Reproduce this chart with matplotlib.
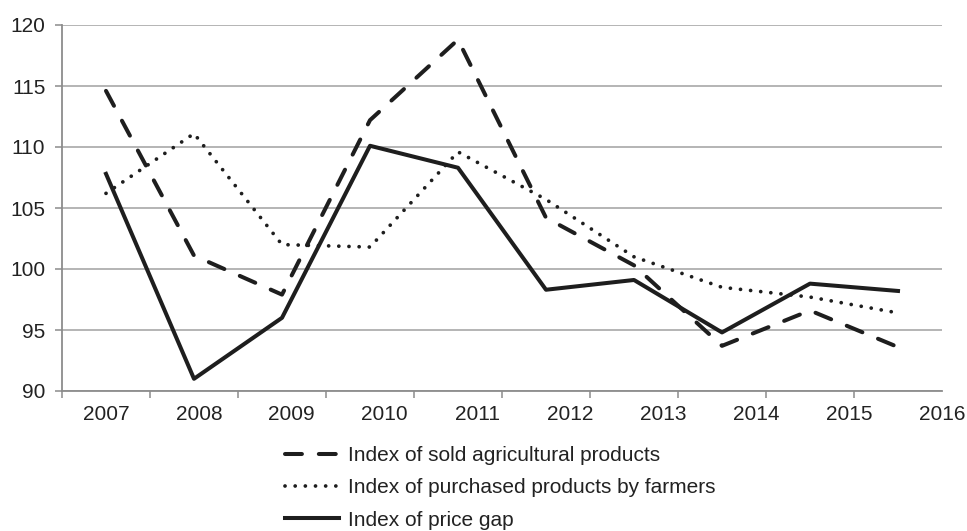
import numpy as np
import matplotlib.pyplot as plt
from matplotlib.lines import Line2D

plt.rcParams['font.family'] = ['Liberation Sans', 'DejaVu Sans']

years = ['2007', '2008', '2009', '2010', '2011', '2012', '2013', '2014', '2015', '2016']
sold = [114.6, 101.1, 97.9, 112.2, 118.8, 104.2, 100.3, 93.7, 96.6, 93.6]
purchased = [106.2, 111.1, 102.0, 101.8, 109.6, 105.7, 101.0, 98.5, 97.7, 96.4]
price_gap = [107.8, 91.0, 96.0, 110.1, 108.3, 98.3, 99.1, 94.8, 98.8, 98.2]
labels = ['Index of sold agricultural products',
          'Index of purchased products by farmers',
          'Index of price gap']

grey = '#8c8c8c'
ink = '#1e1e1e'
txt = '#222222'
dash_style = dict(color=ink, lw=2.9, dashes=(4.2, 4.2), dash_capstyle='round')
dot_style = dict(color=ink, lw=2.7, dashes=(0.01, 2.7), dash_capstyle='round')
solid_style = dict(color=ink, lw=2.9)

fig = plt.figure(figsize=(9.67, 5.31), dpi=100)
ax = fig.add_axes([62/967, 1 - 391/531, (942 - 62)/967, (391 - 25)/531])

x = np.arange(len(years))
ax.plot(x, sold, **dash_style)
ax.plot(x, purchased, **dot_style)
ax.plot(x, price_gap, **solid_style)

ax.set_ylim(90, 120)
ax.set_yticks(np.arange(90, 121, 5))
ax.set_xlim(-0.5, len(years) - 0.5)
ax.grid(axis='y', color='#a0a0a0', lw=1.1)
ax.set_axisbelow(True)

# category edges carry the tick marks, labels sit on their own (tickless) positions
ax.set_xticks(np.arange(-0.5, len(years)), minor=True)
ax.set_xticks(np.linspace(0, len(years) - 0.5, len(years)))
ax.set_xticklabels(years)
ax.tick_params(axis='x', which='major', length=0, pad=10, labelsize=15, labelcolor=txt)
ax.tick_params(axis='x', which='minor', length=5, width=1.1, color=grey, direction='out')
ax.tick_params(axis='y', length=5, width=1.1, color=grey, pad=7, labelsize=15, labelcolor=txt)

for s in ['top', 'right']:
    ax.spines[s].set_visible(False)
for s in ['left', 'bottom']:
    ax.spines[s].set_color(grey)
    ax.spines[s].set_linewidth(1.3)

h1 = Line2D([], [], **dash_style)
h2 = Line2D([], [], **dot_style)
h3 = Line2D([], [], **solid_style)
fig.legend([h1, h2, h3], labels, loc='upper left',
           bbox_to_anchor=(285/967, 1 - 446/531), frameon=False,
           borderpad=0, borderaxespad=0, handlelength=2.6, handletextpad=0.4,
           labelspacing=0.64, fontsize=15, labelcolor=txt)

fig.savefig('out.png', dpi=100)
